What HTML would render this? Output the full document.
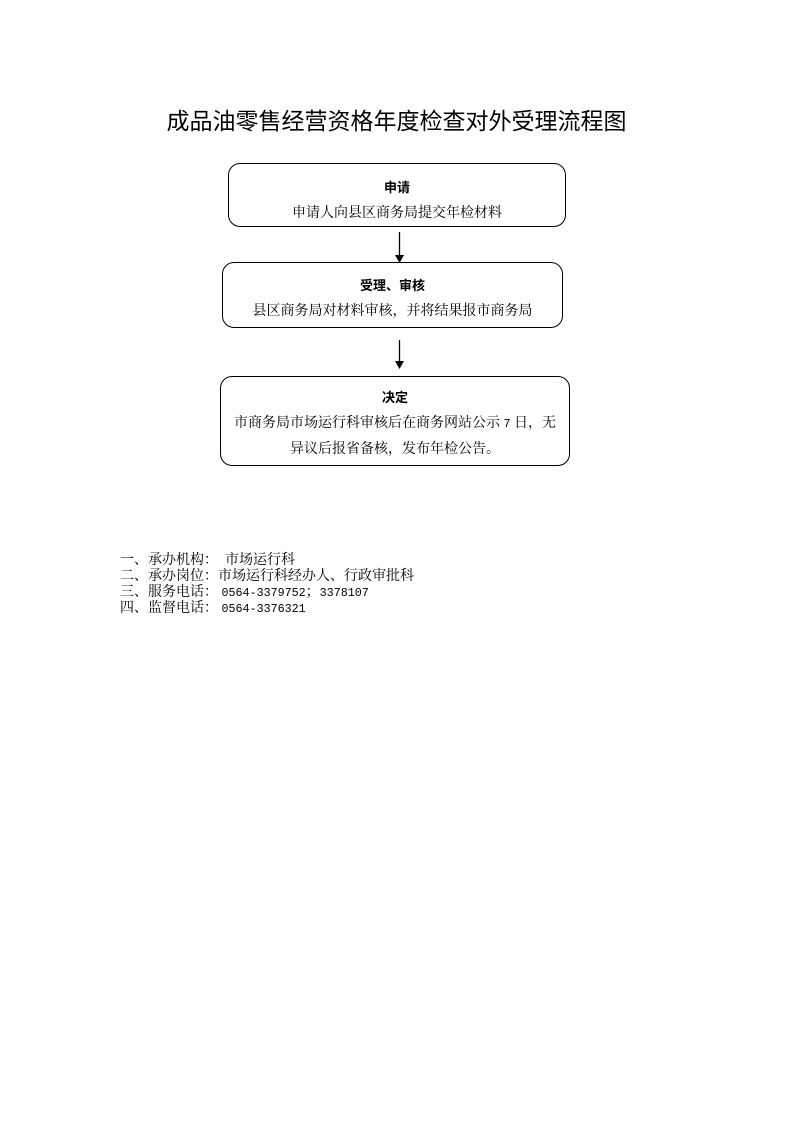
<!DOCTYPE html>
<html><head><meta charset="utf-8"><style>
body{margin:0;width:793px;height:1122px;background:#fff;position:relative;font-family:"Liberation Serif","Noto Serif CJK SC",serif;color:#000}
.t{position:absolute;left:0;width:793px;top:102px;text-align:center;font-size:23px;font-family:"Liberation Sans","Noto Sans CJK SC",sans-serif;}
.b{position:absolute;border:1.3px solid #000;border-radius:12px;box-sizing:border-box;text-align:center;font-size:14px}
.b .h{font-weight:bold;font-size:13px;font-family:"Liberation Sans","Noto Sans CJK SC",sans-serif;}
.l{position:absolute;font-size:14px;line-height:16px;left:120px;top:553px;white-space:pre}
.m{font-family:"Liberation Mono",monospace;font-size:11.7px}
</style></head><body>
<div class="t">成品油零售经营资格年度检查对外受理流程图</div>
<div class="b" style="left:228px;top:163px;width:338px;height:64px;padding-top:11px;line-height:26px"><div class="h">申请</div><div>申请人向县区商务局提交年检材料</div></div>
<div class="b" style="left:222px;top:262px;width:341px;height:66px;padding-top:10px;line-height:26px"><div class="h">受理、审核</div><div>县区商务局对材料审核，并将结果报市商务局</div></div>
<div class="b" style="left:220px;top:376px;width:350px;height:90px;padding-top:8px;line-height:26px"><div class="h">决定</div><div>市商务局市场运行科审核后在商务网站公示 <span class="m">7</span> 日，无<br>异议后报省备核，发布年检公告。</div></div>
<svg width="793" height="1122" style="position:absolute;left:0;top:0">
<line x1="399.5" y1="232" x2="399.5" y2="256" stroke="#000" stroke-width="1.3"/>
<polygon points="395,255 404,255 399.5,263" fill="#000"/>
<line x1="399.5" y1="340" x2="399.5" y2="362" stroke="#000" stroke-width="1.3"/>
<polygon points="395,361 404,361 399.5,369" fill="#000"/>
</svg>
<div class="l">一、承办机构：  市场运行科
二、承办岗位：市场运行科经办人、行政审批科
三、服务电话： <span class="m">0564-3379752</span>；<span class="m">3378107</span>
四、监督电话： <span class="m">0564-3376321</span></div>
</body></html>
